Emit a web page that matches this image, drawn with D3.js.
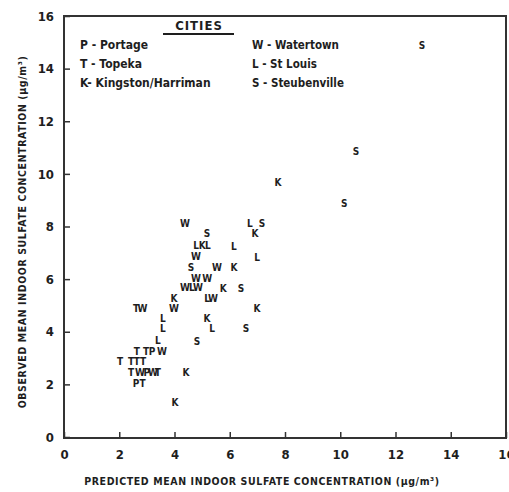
<!DOCTYPE html>
<html>
<head>
<meta charset="utf-8">
<script src="https://cdn.jsdelivr.net/npm/d3@7"></script>
<style>
  body { margin: 0; background: #fff; }
  text { font-family: "DejaVu Sans Condensed", "DejaVu Sans", sans-serif; font-stretch: condensed; font-weight: bold; fill: #1e1e1e; }
</style>
</head>
<body>
<div id="display"></div>
<script>
// city code of each point, predicted (x) and observed (y) sulfate, ug/m3
var cityCode = ["S","S","S","K","L","S","K","L","L","W","S","L","K","L","W","S","W","K","W","W",
                "W","L","W","K","S","K","L","W","T","W","W","K","L","K","L","L","S","L","S",
                "T","T","P","W","T","T","T","T","T","W","P","W","T","K","P","T","K"]
var predicted = [12.96,10.57,10.14,7.75,6.73,7.17,6.91,6.15,6.99,4.38,5.18,4.78,5.0,5.21,4.78,4.6,5.54,6.15,4.78,5.18,
                 4.38,4.63,4.85,5.76,6.41,3.98,5.18,5.39,2.61,2.84,3.98,6.99,3.58,5.18,3.58,5.36,6.59,3.4,4.81,
                 2.64,2.97,3.19,3.55,2.03,2.43,2.64,2.86,2.43,2.75,3.0,3.22,3.4,4.42,2.61,2.84,4.02]
var observed = [14.9,10.87,8.86,9.69,8.1,8.1,7.72,7.26,6.84,8.1,7.72,7.3,7.3,7.3,6.88,6.46,6.46,6.46,6.04,6.04,
                5.7,5.7,5.7,5.66,5.66,5.28,5.28,5.28,4.87,4.87,4.9,4.9,4.52,4.52,4.14,4.14,4.14,3.69,3.65,
                3.27,3.27,3.27,3.27,2.89,2.89,2.89,2.89,2.47,2.47,2.47,2.47,2.47,2.47,2.05,2.05,1.33]

var tickValues = [0, 2, 4, 6, 8, 10, 12, 14, 16]
var legendLeft = ["P - Portage", "T - Topeka", "K- Kingston/Harriman"]
var legendRight = ["W - Watertown", "L - St Louis", "S - Steubenville"]

var width = 509, height = 492;
var margin = {left: 64, right: 3, top: 16, bottom: 55};

var x = d3.scaleLinear()
    .domain([0, 16])
    .range([margin.left, width - margin.right])

var y = d3.scaleLinear()
    .domain([0, 16])
    .range([height - margin.bottom, margin.top])

var svg = d3.select("#display")
    .append("svg")
    .attr("width", width)
    .attr("height", height);

// frame
svg.append("rect")
    .attr("x", x(0))
    .attr("y", y(16))
    .attr("width", x(16) - x(0))
    .attr("height", y(0) - y(16) + 1)
    .attr("fill", "none")
    .attr("stroke", "#333")
    .attr("stroke-width", 2);

var xAxis = g => g
    .attr("transform", `translate(0,${y(0) + 1})`)
    .call(d3.axisBottom(x).tickValues(tickValues).tickSize(-6).tickPadding(12).tickFormat(d3.format("d")))
    .call(g => g.select(".domain").remove())
    .call(g => g.selectAll(".tick line").attr("stroke", "#333").attr("stroke-width", 1.5))
    .call(g => g.selectAll(".tick text").style("font-size", "13px"));

var yAxis = g => g
    .attr("transform", `translate(${x(0)},0)`)
    .call(d3.axisLeft(y).tickValues(tickValues).tickSize(-6).tickPadding(10).tickFormat(d3.format("d")))
    .call(g => g.select(".domain").remove())
    .call(g => g.selectAll(".tick line").attr("stroke", "#333").attr("stroke-width", 1.5))
    .call(g => g.selectAll(".tick text").style("font-size", "13px"));

svg.append("g").call(xAxis);
svg.append("g").call(yAxis);

// axis titles
svg.append("text")
    .attr("x", 262)
    .attr("y", 485)
    .attr("text-anchor", "middle")
    .style("font-size", "10.5px")
    .style("letter-spacing", "0.6px")
    .text("PREDICTED  MEAN  INDOOR  SULFATE  CONCENTRATION  (μg/m³)");

svg.append("text")
    .attr("transform", `translate(26,232) rotate(-90)`)
    .attr("text-anchor", "middle")
    .style("font-size", "10.5px")
    .style("letter-spacing", "0.6px")
    .text("OBSERVED  MEAN  INDOOR  SULFATE  CONCENTRATION  (μg/m³)");

// legend
svg.append("text")
    .attr("x", 199).attr("y", 30)
    .attr("text-anchor", "middle")
    .style("font-size", "13px")
    .style("letter-spacing", "1px")
    .text("CITIES");
svg.append("line")
    .attr("x1", 163).attr("x2", 234)
    .attr("y1", 34).attr("y2", 34)
    .attr("stroke", "#1e1e1e").attr("stroke-width", 2);

svg.append("g")
    .selectAll("text")
    .data(legendLeft)
    .join("text")
      .attr("x", 80)
      .attr("y", (d, i) => 49 + i * 19)
      .style("font-size", "12px")
      .text(d => d);

svg.append("g")
    .selectAll("text")
    .data(legendRight)
    .join("text")
      .attr("x", 252)
      .attr("y", (d, i) => 49 + i * 19)
      .style("font-size", "11.5px")
      .text(d => d);

// points drawn as city letters
svg.append("g")
    .attr("text-anchor", "middle")
    .style("font-size", "10px")
  .selectAll("text")
  .data(cityCode)
  .join("text")
    .attr("x", (d, i) => x(predicted[i]))
    .attr("y", (d, i) => y(observed[i]))
    .attr("dy", "0.36em")
    .text(d => d);
</script>
</body>
</html>
